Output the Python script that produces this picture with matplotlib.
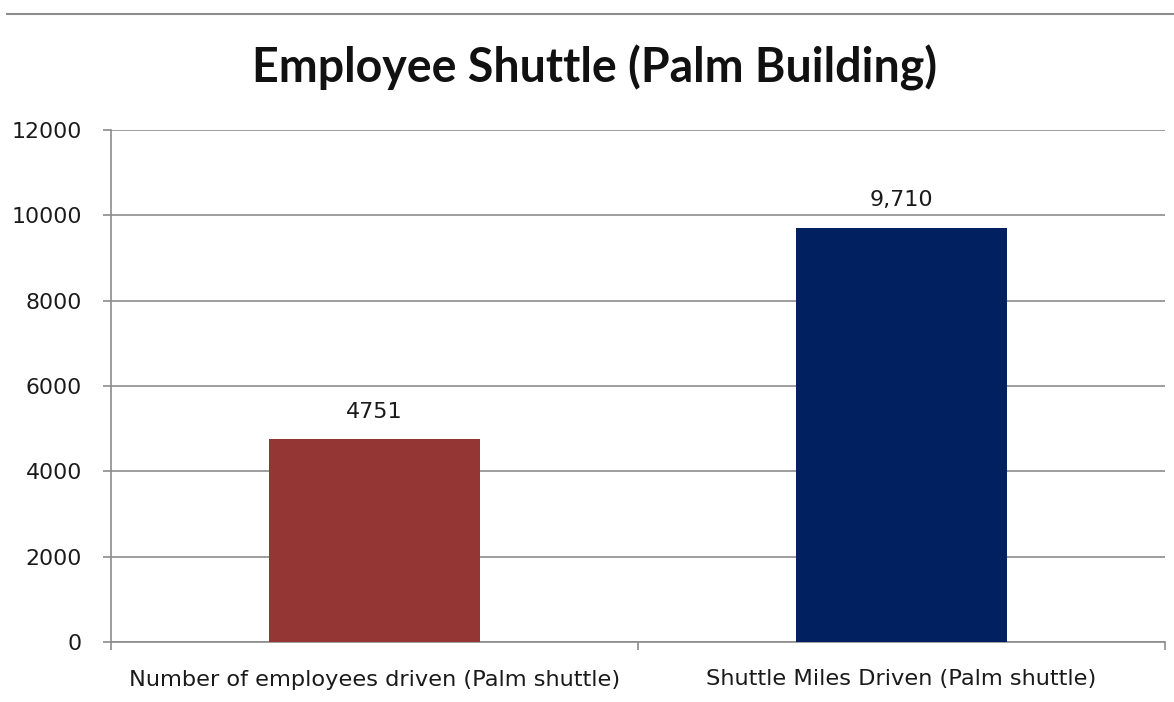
import matplotlib
matplotlib.use("Agg")
import matplotlib.pyplot as plt
from matplotlib.lines import Line2D
from matplotlib.ticker import FixedLocator

categories = ["Number of employees driven (Palm shuttle)", "Shuttle Miles Driven (Palm shuttle)"]
values = [4751, 9710]
value_labels = ["4751", "9,710"]
bar_colors = ["#943634", "#002060"]
yticks = [0, 2000, 4000, 6000, 8000, 10000, 12000]
title = "Employee Shuttle (Palm Building)"

W, H = 1174, 702
fig = plt.figure(figsize=(W / 100, H / 100), dpi=100)
fig.patch.set_facecolor("white")

ax = fig.add_axes([111 / W, 1 - 642 / H, (1165 - 111) / W, (642 - 130) / H])

grid_color = "#8c8c8c"
x = list(range(len(categories)))
ax.bar(x, values, width=0.4, color=bar_colors, zorder=3)
ax.set_xlim(-0.5, len(categories) - 0.5)
ax.set_ylim(0, 12000)

ax.set_yticks(yticks)
ax.set_yticklabels([str(t) for t in yticks], fontsize=15.8, family="DejaVu Sans", color="#1a1a1a")
ax.yaxis.grid(True, color=grid_color, linewidth=1.2, zorder=0)
ax.tick_params(axis="y", length=6, width=1.2, color=grid_color, pad=15)

# category boundary ticks on x axis
ax.xaxis.set_major_locator(FixedLocator([-0.5, 0.5, 1.5]))
ax.xaxis.set_major_formatter(plt.NullFormatter())
ax.tick_params(axis="x", length=6, width=1.2, color=grid_color)
for xi, cat in zip(x, categories):
    ax.annotate(cat, xy=(xi, 0), xycoords="data", xytext=(0, -27), textcoords="offset points",
                ha="center", va="center", fontsize=16.2, family="DejaVu Sans", color="#1a1a1a")

for xi, v, lab in zip(x, values, value_labels):
    ax.annotate(lab, xy=(xi, v), xytext=(0, 20), textcoords="offset points",
                ha="center", va="center", fontsize=16, family="DejaVu Sans", color="#1a1a1a")

for s in ["top", "right"]:
    ax.spines[s].set_visible(False)
for s in ["left", "bottom"]:
    ax.spines[s].set_color(grid_color)
    ax.spines[s].set_linewidth(1.2)

fig.text(595 / W, 1 - 68 / H, title, ha="center", va="center", fontsize=33.5,
         fontweight="bold", family="Lato", color="#111111")

fig.add_artist(Line2D([7 / W, 1.0], [1 - 14 / H, 1 - 14 / H], transform=fig.transFigure,
                      color="#8c8c8c", linewidth=1.5))

fig.savefig("out.png", dpi=100, facecolor="white")
